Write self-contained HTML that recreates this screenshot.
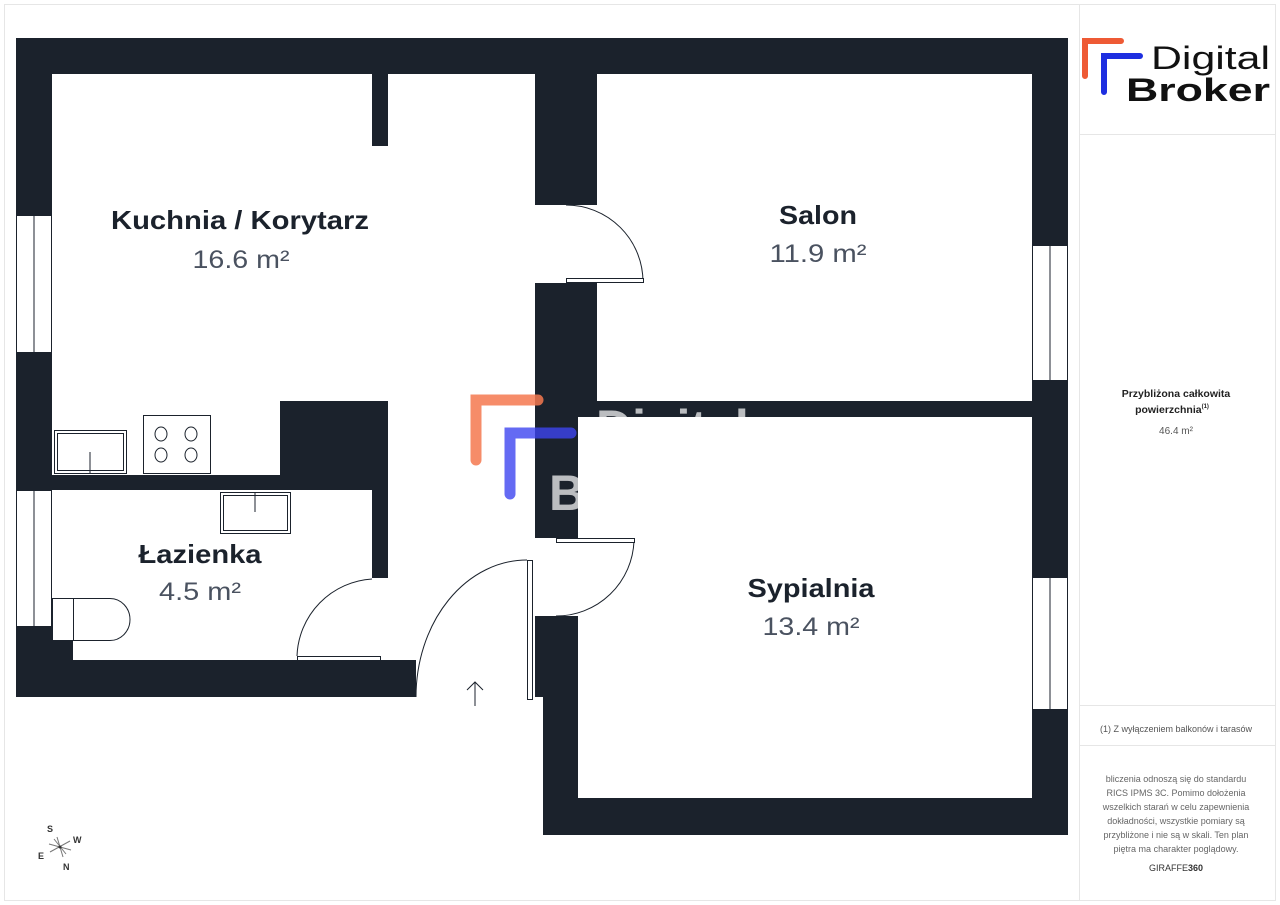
<!DOCTYPE html>
<html><head><meta charset="utf-8"><style>
html,body{margin:0;padding:0;background:#fff}
svg{display:block}
text{font-family:"Liberation Sans",sans-serif}
</style></head><body>
<svg width="1280" height="905" viewBox="0 0 1280 905" xmlns="http://www.w3.org/2000/svg">
<rect x="0" y="0" width="1280" height="905" fill="#fff"/>
<rect x="4.5" y="4.5" width="1271" height="896" fill="none" stroke="#e6e6e6"/>
<line x1="1079.5" y1="4" x2="1079.5" y2="900" stroke="#e6e6e6"/>
<line x1="1079" y1="134.5" x2="1275" y2="134.5" stroke="#e6e6e6"/>
<line x1="1079" y1="705.5" x2="1275" y2="705.5" stroke="#e6e6e6"/>
<line x1="1079" y1="745.5" x2="1275" y2="745.5" stroke="#e6e6e6"/>

<g fill="#1b222c">
<rect x="16" y="38" width="1052" height="36"/>
<rect x="16" y="38" width="36" height="659"/>
<rect x="1032" y="38" width="36" height="797"/>
<rect x="372" y="74" width="16" height="72"/>
<rect x="535" y="74" width="62" height="131"/>
<rect x="535" y="283" width="62" height="134"/>
<rect x="535" y="417" width="43" height="121"/>
<rect x="597" y="401" width="435" height="16"/>
<rect x="535" y="616" width="43" height="81"/>
<rect x="543" y="697" width="35" height="138"/>
<rect x="543" y="798" width="525" height="37"/>
<rect x="280" y="401" width="108" height="89"/>
<rect x="16" y="475" width="372" height="15"/>
<rect x="372" y="490" width="16" height="88"/>
<rect x="16" y="660" width="400" height="37"/>
<rect x="16" y="627" width="57" height="70"/>
</g>

<g fill="#fff" stroke="#1b222c" stroke-width="1">
<rect x="16.5" y="215.5" width="35" height="137"/>
<line x1="34" y1="215" x2="34" y2="352"/>
<rect x="16.5" y="490.5" width="35" height="136"/>
<line x1="34" y1="490" x2="34" y2="627"/>
<rect x="1032.5" y="245.5" width="35" height="135"/>
<line x1="1050" y1="245" x2="1050" y2="380"/>
<rect x="1032.5" y="577.5" width="35" height="132"/>
<line x1="1050" y1="577" x2="1050" y2="709"/>
</g>

<g fill="#fff" stroke="#1b222c" stroke-width="1">
<rect x="54.5" y="430.5" width="72" height="43"/>
<rect x="57.5" y="433.5" width="66" height="37"/>
<line x1="90" y1="452" x2="90" y2="474"/>
<rect x="143.5" y="415.5" width="67" height="58"/>
<ellipse cx="161" cy="434" rx="6" ry="7"/><ellipse cx="191" cy="434" rx="6" ry="7"/>
<ellipse cx="161" cy="455" rx="6" ry="7"/><ellipse cx="191" cy="455" rx="6" ry="7"/>
<rect x="220.5" y="492.5" width="70" height="41"/>
<rect x="223.5" y="495.5" width="64" height="35"/>
<line x1="255" y1="492" x2="255" y2="512"/>
<rect x="52.5" y="598.5" width="21" height="42"/>
<path d="M73.5 598.5 H110 A20 21 0 0 1 110 640.5 H73.5 Z"/>
</g>

<g fill="none" stroke="#1b222c" stroke-width="1">
<path d="M566 205 A77 77 0 0 1 643 282"/>
<rect x="566.5" y="278.5" width="77" height="4" fill="#fff"/>
<path d="M634 541 A78 78 0 0 1 556 616"/>
<rect x="556.5" y="538.5" width="78" height="4" fill="#fff"/>
<path d="M297 656 A80 80 0 0 1 372 579"/>
<rect x="297.5" y="656.5" width="83" height="4" fill="#fff"/>
<path d="M416 697 A111 137 0 0 1 527 560"/>
<rect x="527.5" y="560.5" width="5" height="139" fill="#fff"/>
<path d="M475 706 V682 M467 690 L475 682 L483 690"/>
</g>

<path d="M476 460 V400 H538" fill="none" stroke="#f4784f" stroke-width="11" stroke-linecap="round" opacity="0.85"/>
<path d="M510 494 V433 H571" fill="none" stroke="#3d45f0" stroke-width="11" stroke-linecap="round" opacity="0.8"/>
<text x="596" y="445" font-size="50" font-weight="bold" fill="#fff" opacity="0.7">Digital</text>
<text x="549" y="510" font-size="50" font-weight="bold" fill="#fff" opacity="0.7">Broker</text>

<g text-anchor="middle">
<text x="240" y="229" font-size="26" font-weight="bold" fill="#1b222c" textLength="258" lengthAdjust="spacingAndGlyphs">Kuchnia / Korytarz</text>
<text x="241" y="268" font-size="25" fill="#4a5260" textLength="97" lengthAdjust="spacingAndGlyphs">16.6 m²</text>
<text x="818" y="224" font-size="26" font-weight="bold" fill="#1b222c" textLength="78" lengthAdjust="spacingAndGlyphs">Salon</text>
<text x="818" y="262" font-size="25" fill="#4a5260" textLength="97" lengthAdjust="spacingAndGlyphs">11.9 m²</text>
<text x="811" y="597" font-size="26" font-weight="bold" fill="#1b222c" textLength="127" lengthAdjust="spacingAndGlyphs">Sypialnia</text>
<text x="811" y="635" font-size="25" fill="#4a5260" textLength="97" lengthAdjust="spacingAndGlyphs">13.4 m²</text>
<text x="200" y="563" font-size="26" font-weight="bold" fill="#1b222c" textLength="123" lengthAdjust="spacingAndGlyphs">Łazienka</text>
<text x="200" y="600" font-size="25" fill="#4a5260" textLength="82" lengthAdjust="spacingAndGlyphs">4.5 m²</text>
</g>

<g stroke="#777" stroke-width="1">
<line x1="50" y1="852" x2="70" y2="841"/>
<line x1="54" y1="839" x2="66" y2="854"/>
<line x1="57" y1="837" x2="63" y2="857"/>
<line x1="49" y1="844" x2="71" y2="850"/>
</g>
<circle cx="60" cy="847" r="1.5" fill="#333"/>
<g font-size="9" font-weight="bold" fill="#333">
<text x="47" y="832">S</text><text x="73" y="843">W</text>
<text x="38" y="859">E</text><text x="63" y="870">N</text>
</g>

<path d="M1085 76 V41 H1121" fill="none" stroke="#ee5a35" stroke-width="6" stroke-linecap="round"/>
<path d="M1104 92 V56 H1140" fill="none" stroke="#1e2fe0" stroke-width="6" stroke-linecap="round"/>
<text x="1151" y="69" font-size="32" fill="#111" textLength="119" lengthAdjust="spacingAndGlyphs">Digital</text>
<text x="1126" y="101" font-size="32" font-weight="bold" fill="#111" textLength="144" lengthAdjust="spacingAndGlyphs">Broker</text>

<g text-anchor="middle" fill="#222">
<text x="1176" y="397" font-size="10.5" font-weight="bold">Przybliżona całkowita</text>
<text x="1172" y="413" font-size="10.5" font-weight="bold">powierzchnia<tspan font-size="6" dy="-5">(1)</tspan></text>
<text x="1176" y="434" font-size="10" fill="#555">46.4 m²</text>
<text x="1176" y="732" font-size="9" fill="#555">(1) Z wyłączeniem balkonów i tarasów</text>
<g font-size="9" fill="#666">
<text x="1176" y="782">bliczenia odnoszą się do standardu</text>
<text x="1176" y="796">RICS IPMS 3C. Pomimo dołożenia</text>
<text x="1176" y="810">wszelkich starań w celu zapewnienia</text>
<text x="1176" y="824">dokładności, wszystkie pomiary są</text>
<text x="1176" y="838">przybliżone i nie są w skali. Ten plan</text>
<text x="1176" y="852">piętra ma charakter poglądowy.</text>
</g>
<text x="1176" y="871" font-size="9" fill="#333">GIRAFFE<tspan font-weight="bold">360</tspan></text>
</g>
</svg>
</body></html>
